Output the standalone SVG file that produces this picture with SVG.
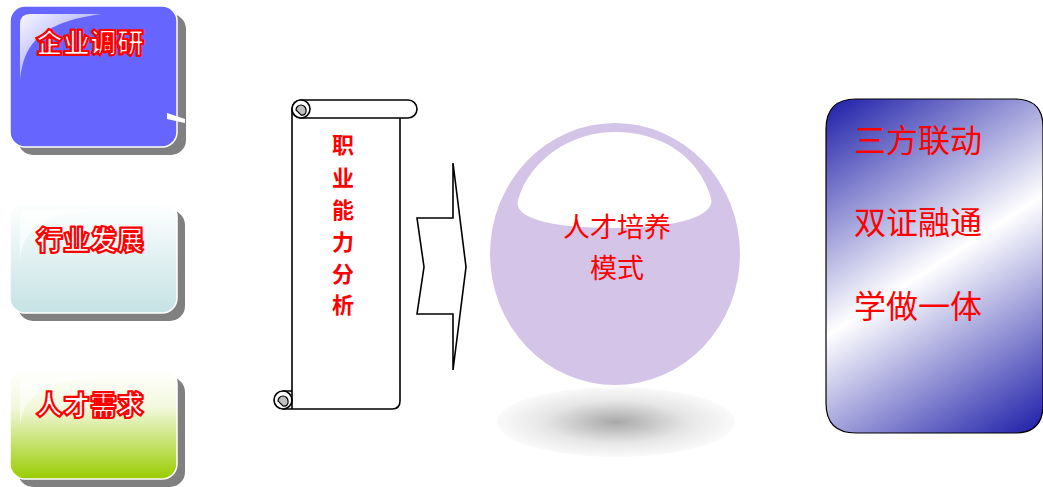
<svg xmlns="http://www.w3.org/2000/svg" width="1043" height="487" viewBox="0 0 1043 487">
<defs>
<style>
.lbl{font-family:"Noto Sans CJK SC","Liberation Sans",sans-serif;font-weight:900;font-size:27px;fill:#fff;stroke:#f00;stroke-width:2.2px;stroke-linejoin:round;text-anchor:middle}
.red{font-family:"Noto Sans CJK SC","Liberation Sans",sans-serif;fill:#f00;text-anchor:middle}
.shadow{fill:#808080}
.scroll{fill:#fff;stroke:#000;stroke-width:1.6;stroke-linejoin:round}
</style>
<linearGradient id="g2" x1="0" y1="0" x2="0" y2="1"><stop offset="0" stop-color="#fff"/><stop offset="1" stop-color="#c5e2e4"/></linearGradient>
<linearGradient id="g3" x1="0" y1="0" x2="0" y2="1"><stop offset="0" stop-color="#fff"/><stop offset="0.35" stop-color="#f2f8dc"/><stop offset="1" stop-color="#99cc00"/></linearGradient>
<linearGradient id="gloss" x1="0" y1="0" x2="1" y2="1"><stop offset="0" stop-color="#fff" stop-opacity="0.95"/><stop offset="1" stop-color="#fff" stop-opacity="0.1"/></linearGradient>
<linearGradient id="gr" x1="826" y1="99" x2="1043" y2="433" gradientUnits="userSpaceOnUse"><stop offset="0" stop-color="#1c1ca8"/><stop offset="0.5" stop-color="#fff"/><stop offset="1" stop-color="#1c1ca8"/></linearGradient>
<radialGradient id="sh" cx="0.5" cy="0.5" r="0.5"><stop offset="0" stop-color="#a8a8a8"/><stop offset="0.6" stop-color="#e6e6e6"/><stop offset="1" stop-color="#fafafa"/></radialGradient>
</defs>

<g id="node-qiye">
<rect class="shadow" x="18" y="14" width="168" height="141" rx="15"/>
<rect x="10" y="6" width="167" height="141" rx="15" fill="#6666ff" stroke="#fff" stroke-width="1.5"/>
<path d="M20,84 C22,45 40,22 102,14 L30,14 Q20,14 20,24 Z" fill="url(#gloss)"/>
<path d="M167,113 L185,119 L185,123 L167,119 Z" fill="#fff"/>
<text class="lbl" x="90" y="53">企业调研</text>
</g>

<g id="node-hangye">
<rect class="shadow" x="18" y="210" width="167" height="111" rx="15"/>
<rect x="10" y="202" width="167" height="111" rx="15" fill="url(#g2)" stroke="#fff" stroke-width="1.5"/>
<path d="M20,262 C22,230 40,214 102,210 L30,210 Q20,210 20,220 Z" fill="#fff" opacity="0.6"/>
<text class="lbl" x="90" y="250">行业发展</text>
</g>

<g id="node-rencai">
<rect class="shadow" x="18" y="377" width="167" height="110" rx="15"/>
<rect x="10" y="369" width="167" height="110" rx="15" fill="url(#g3)" stroke="#fff" stroke-width="1.5"/>
<path d="M20,428 C22,398 40,381 102,377 L30,377 Q20,377 20,387 Z" fill="#fff" opacity="0.6"/>
<text class="lbl" x="90" y="415">人才需求</text>
</g>

<g id="node-zhiye">
<path class="scroll" d="M292,109 H400 V401 Q400,409 392,409 H283 V391 H292 Z"/>
<rect class="scroll" x="292" y="100" width="125" height="18" rx="9"/>
<circle class="scroll" cx="301" cy="109" r="9"/>
<path d="M296,110 A5,5 0 0 1 306,110 A4,4 0 0 1 301,115 Z" fill="#c0c0c0" stroke="#000" stroke-width="1.2"/>
<circle class="scroll" cx="283" cy="400" r="9"/>
<path d="M278,401 A5,5 0 0 1 288,401 A4,4 0 0 1 283,406 Z" fill="#c0c0c0" stroke="#000" stroke-width="1.2"/>
<path d="M292,391 V409" fill="none" stroke="#000" stroke-width="1.6"/>
<g class="red" style="font-size:22px;font-weight:bold">
<text x="343" y="153">职</text>
<text x="343" y="186">业</text>
<text x="343" y="218">能</text>
<text x="343" y="250">力</text>
<text x="343" y="282">分</text>
<text x="343" y="313">析</text>
</g>
</g>

<g id="connectors">
<path d="M453,163 L466,267 L453,370 V314 H417 L424,267 L417,218 H453 Z" fill="#fff" stroke="#000" stroke-width="1.6" stroke-linejoin="miter"/>
</g>

<g id="node-moshi">
<ellipse cx="616" cy="422" rx="119" ry="35" fill="url(#sh)"/>
<ellipse cx="615" cy="254" rx="125" ry="131" fill="#d4c4e8"/>
<path d="M518,200 C530,160 570,132 615,132 C665,132 700,160 711,198 C716,215 680,228 615,228 C550,228 513,218 518,200 Z" fill="#fff"/>
<text class="red" style="font-size:27px" x="617" y="237">人才培养</text>
<text class="red" style="font-size:27px" x="617" y="278">模式</text>
</g>

<g id="node-sanfang">
<path d="M856,99 H1015 Q1043,99 1043,127 V405 Q1043,433 1015,433 H856 Q826,433 826,403 V129 Q826,99 856,99 Z" fill="url(#gr)" stroke="#000" stroke-width="1.2"/>
<g class="red" style="font-size:32px">
<text x="918" y="152">三方联动</text>
<text x="918" y="234">双证融通</text>
<text x="918" y="318">学做一体</text>
</g>
</g>
</svg>
